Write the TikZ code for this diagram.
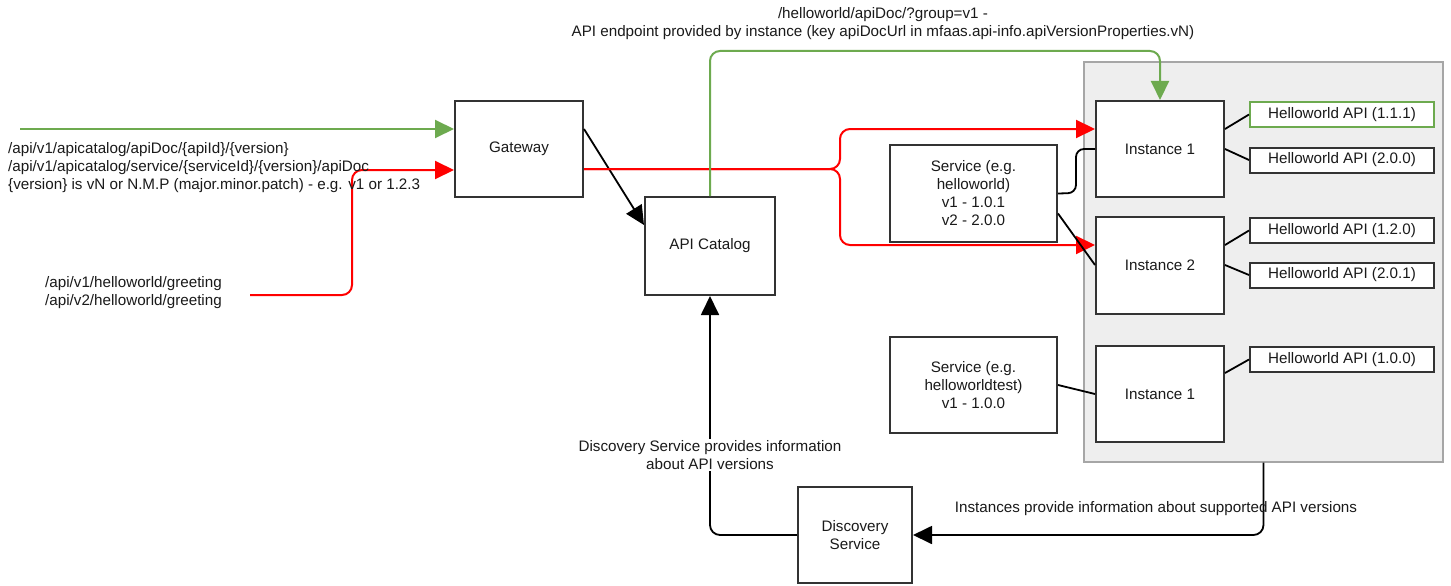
\documentclass[tikz,border=0pt]{standalone}
\usepackage{fontspec}
\setmainfont{Liberation Sans}
\usetikzlibrary{arrows.meta}
\definecolor{gline}{HTML}{6DAA4F}
\definecolor{rline}{HTML}{FF0000}
\definecolor{boxc}{HTML}{333333}
\definecolor{grpfill}{HTML}{EEEEEE}
\definecolor{grpline}{HTML}{A6A6A6}
\definecolor{txt}{HTML}{1A1A1A}
\tikzset{
  box/.style={draw=boxc, line width=2pt, fill=white, align=center, inner sep=0pt, text=txt},
  apibox/.style={box, minimum width=184pt, minimum height=25pt},
  inst/.style={box, minimum width=128pt, minimum height=96pt},
  tip/.style={-{Triangle[length=19pt,width=18pt]}},
  gl/.style={draw=gline, line width=2pt, rounded corners=10pt},
  rl/.style={draw=rline, line width=2pt, rounded corners=10pt},
  bl/.style={draw=black, line width=1.8pt, rounded corners=10pt},
  lbl/.style={inner sep=0pt, text=txt}
}
\begin{document}
\begin{tikzpicture}[x=1pt,y=-1pt, font=\fontsize{15.2}{18}\selectfont]
\useasboundingbox[fill=white] (0,0) rectangle (1451,586);

% container
\node[draw=grpline, fill=grpfill, line width=1.2pt, minimum width=359pt, minimum height=400pt, inner sep=0pt] (grp) at (1263.5,262) {};

% main nodes
\node[box, minimum width=128pt, minimum height=96pt] (gw) at (519,149) {Gateway};
\node[box, minimum width=130pt, minimum height=98pt] (cat) at (710,246) {API Catalog};
\node[box, minimum width=114pt, minimum height=96pt] (disc) at (855,535) {Discovery\\Service};
\node[box, minimum width=167pt, minimum height=97pt] (svc1) at (973.5,193.5) {Service (e.g.\\helloworld)\\v1 - 1.0.1\\v2 - 2.0.0};
\node[box, minimum width=167pt, minimum height=96pt] (svc2) at (973.5,385) {Service (e.g.\\helloworldtest)\\v1 - 1.0.0};

\node[inst] (i1) at (1160,149) {Instance 1};
\node[inst, minimum height=97pt] (i2) at (1160,265) {Instance 2};
\node[inst] (i3) at (1160,394) {Instance 1};

\node[apibox, draw=gline] (a1) at (1342,114.5) {Helloworld API (1.1.1)};
\node[apibox] (a2) at (1342,160) {Helloworld API (2.0.0)};
\node[apibox] (a3) at (1342,230.5) {Helloworld API (1.2.0)};
\node[apibox] (a4) at (1342,275) {Helloworld API (2.0.1)};
\node[apibox] (a5) at (1342,359.5) {Helloworld API (1.0.0)};

% free ends
\coordinate (gin) at (20,129);
\coordinate (rin) at (250,295);

% inputs to gateway
\draw[gl, tip] (gin) -- (gw.west |- gin);
\draw[rl, tip] (rin) -- (352,295) -- (352,170) -- ([yshift=-21pt]gw.west);

% gateway -> catalog
\draw[bl, tip] ([yshift=20pt]gw.east) -- ([yshift=21pt]cat.west);

% gateway -> instances (red brace)
\draw[rl, tip] ([yshift=-20pt]gw.east) -| (840,129) -- ([yshift=20pt]i1.west);
\draw[rl, tip] ([yshift=-20pt]gw.east) -| (840,245) -- ([yshift=20pt]i2.west);

% catalog -> instance (green)
\draw[gl, tip] (cat.north) |- (900,51) -| (i1.north);

% services -> instances
\draw[bl, rounded corners=8pt] ([yshift=0pt]svc1.east) -- (1076,193) |- (i1.west);
\draw[bl] ([yshift=-20pt]svc1.east) -- (i2.west);
\draw[bl] (svc2.east) -- (i3.west);

% instances -> api boxes
\draw[bl] ([yshift=20pt]i1.east) -- (a1.west);
\draw[bl] (i1.east) -- (a2.west);
\draw[bl] ([yshift=20pt]i2.east) -- (a3.west);
\draw[bl] (i2.east) -- (a4.west);
\draw[bl] ([yshift=21pt]i3.east) -- (a5.west);

% discovery flows
\draw[bl, tip] (grp.south) |- (disc.east);
\draw[bl, tip] (disc.west) -| (cat.south);

% labels
\node[lbl, anchor=west, align=left] (ltxt) at (8,168) {/api/v1/apicatalog/apiDoc/\{apiId\}/\{version\}\\/api/v1/apicatalog/service/\{serviceId\}/\{version\}/apiDoc\\\{version\} is vN or N.M.P (major.minor.patch) - e.g. v1 or 1.2.3};
\node[lbl, anchor=west, align=left] (gtxt) at (45,293) {/api/v1/helloworld/greeting\\/api/v2/helloworld/greeting};
\node[lbl, align=center] (toptxt) at (883,24) {/helloworld/apiDoc/?group=v1 -\\API endpoint provided by instance (key apiDocUrl in mfaas.api-info.apiVersionProperties.vN)};
\node[lbl, align=center, fill=white, inner sep=1pt] (dtxt) at (710,455) {Discovery Service provides information\\about API versions};
\node[lbl] (itxt) at (1156,509) {Instances provide information about supported API versions};
\end{tikzpicture}
\end{document}
